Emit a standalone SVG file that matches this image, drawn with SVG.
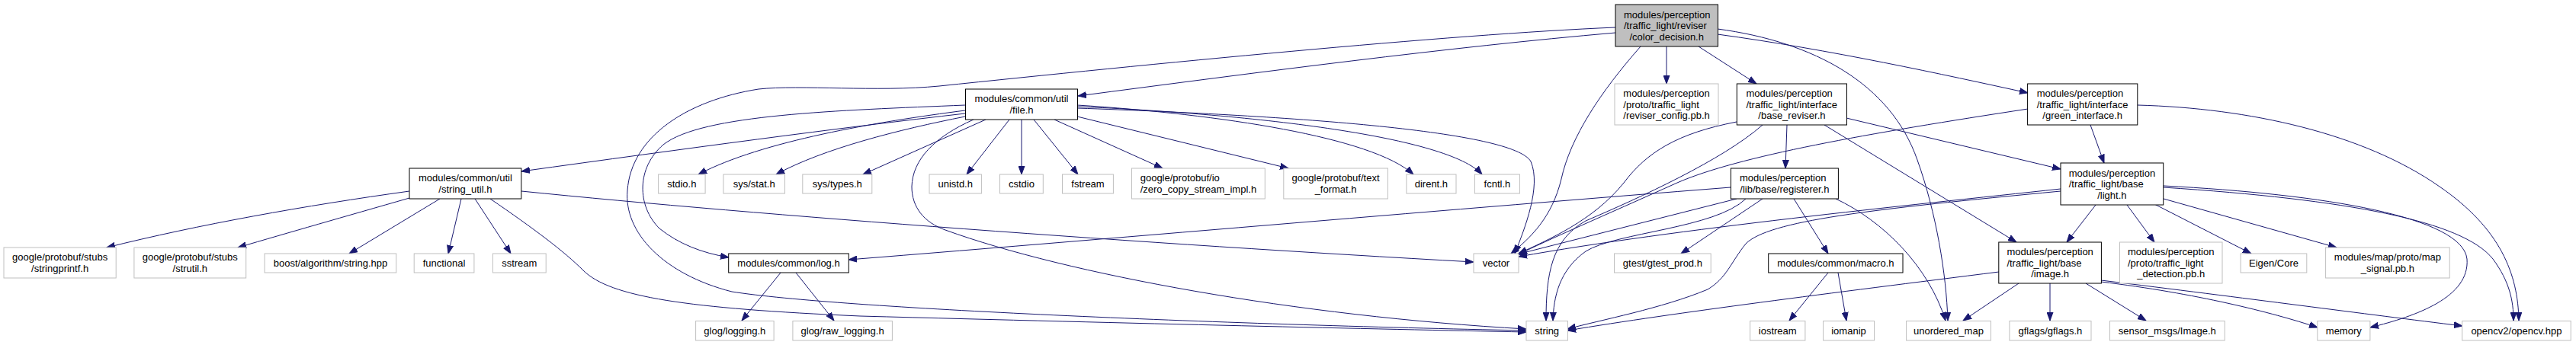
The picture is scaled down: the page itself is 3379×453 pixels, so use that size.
<svg xmlns="http://www.w3.org/2000/svg" width="3379" height="453" viewBox="0 0 3379 453">
<style>
text{font-family:"Liberation Sans",Arial,sans-serif;font-size:13px;fill:#000}
.c{text-anchor:middle}
.l{text-anchor:start}
.n rect{fill:#fff;stroke:#000;stroke-width:1}
.x rect{fill:#fff;stroke:#bfbfbf;stroke-width:1}
.r rect{fill:#bfbfbf;stroke:#000;stroke-width:1}
#edges path{fill:none;stroke:#191970;stroke-width:1;marker-end:url(#ah)}
</style>
<defs>
<marker id="ah" markerUnits="userSpaceOnUse" markerWidth="12" markerHeight="9" refX="11" refY="4.5" orient="auto" viewBox="0 0 12 9"><path d="M0,0.5 L11,4.5 L0,8.5 z" fill="#191970" stroke="#191970"/></marker>
</defs>
<rect width="3379" height="453" fill="#fff"/>
<g id="edges">
<path d="M2119,43 C1900,62 1650,95 1414,126"/>
<path d="M2119,36 C1900,45 1500,85 1232,113 C1150,121 1050,111 995,117 C900,132 828,180 823,250 C818,305 870,360 960,383 C1100,405 1600,426 2002,434"/>
<path d="M2152,61 C2100,120 2060,180 2048,235 C2036,285 2008,312 1982,333"/>
<path d="M2186,61 L2186,110"/>
<path d="M2228,61 L2304,110"/>
<path d="M2253,45 C2400,65 2550,98 2660,122"/>
<path d="M2253,38 C2380,55 2480,110 2515,210 C2540,280 2553,360 2555,421"/>
<path d="M1266,138 C1100,145 920,150 870,190 C835,220 835,270 865,300 C890,320 920,332 956,338"/>
<path d="M1266,145 C1150,160 1000,185 916,229"/>
<path d="M1266,149 C1100,168 900,195 684,225"/>
<path d="M1266,153 C1180,170 1080,195 1018,229"/>
<path d="M1293,157 L1132,229"/>
<path d="M1324,157 L1268,229"/>
<path d="M1340,157 L1340,229"/>
<path d="M1356,157 L1414,229"/>
<path d="M1383,157 L1525,221"/>
<path d="M1413,153 L1690,221"/>
<path d="M1413,138 C1600,150 1800,180 1854,229"/>
<path d="M1413,140 C1650,150 1900,180 1944,229"/>
<path d="M1413,142 C1700,152 1985,172 2008,212 C2022,245 2000,300 1987,333"/>
<path d="M1277,157 C1225,180 1197,210 1196,245 C1196,272 1212,292 1240,302 C1400,360 1700,415 2002,432"/>
<path d="M537,251 C400,270 260,295 140,325"/>
<path d="M537,260 C450,285 380,305 312,325"/>
<path d="M577,261 L458,333"/>
<path d="M605,261 L588,333"/>
<path d="M623,261 L670,333"/>
<path d="M643,261 C700,300 740,330 765,355 C800,390 900,405 1128,415 C1500,425 1800,432 2002,436"/>
<path d="M684,251 C1000,283 1500,320 1933,344"/>
<path d="M1024,358 L973,421"/>
<path d="M1044,358 L1094,421"/>
<path d="M2270,246 C1900,275 1500,310 1113,341"/>
<path d="M2353,261 L2398,333"/>
<path d="M2408,261 C2470,290 2530,350 2552,421"/>
<path d="M2312,261 L2205,333"/>
<path d="M2278,261 L1990,334"/>
<path d="M2290,261 C2250,300 2120,305 2080,330 C2045,355 2038,390 2037,421"/>
<path d="M2344,164 L2342,221"/>
<path d="M2393,164 L2645,318"/>
<path d="M2422,155 L2703,222"/>
<path d="M2278,160 C2200,175 2160,200 2130,240 C2090,290 2030,315 1992,333"/>
<path d="M2312,164 C2260,210 2150,260 2080,290 C2035,315 2028,360 2028,421"/>
<path d="M2742,164 L2760,214"/>
<path d="M2804,138 C2950,142 3100,175 3200,245 C3280,300 3303,360 3304,421"/>
<path d="M2660,143 C2450,175 2280,205 2200,240 C2100,285 2030,315 1992,334"/>
<path d="M2749,269 L2711,318"/>
<path d="M2790,269 L2826,318"/>
<path d="M2826,268 L2953,333"/>
<path d="M2838,261 L3065,325"/>
<path d="M2838,244 C3050,255 3230,285 3236,340 C3240,390 3170,415 3109,430"/>
<path d="M2838,246 C3080,262 3230,290 3270,340 C3292,370 3297,395 3297,421"/>
<path d="M2703,248 C2500,270 2200,300 1992,337"/>
<path d="M2703,251 C2450,275 2320,290 2290,320 C2270,345 2265,365 2240,380 C2180,405 2100,420 2056,432"/>
<path d="M2622,357 C2400,385 2200,410 2056,434"/>
<path d="M2648,372 L2575,421"/>
<path d="M2689,372 L2689,421"/>
<path d="M2736,372 L2815,421"/>
<path d="M2756,370 C2880,385 2980,410 3040,430"/>
<path d="M2756,368 C2950,392 3100,412 3230,428"/>
<path d="M2398,358 L2347,421"/>
<path d="M2411,358 L2422,421"/>
</g>
<g id="root" class="r"><rect x="2119" y="6" width="134.5" height="55"/><text class="l" x="2130" y="23.5">modules/perception</text><text class="l" x="2130" y="38">/traffic_light/reviser</text><text class="c" x="2186.2" y="52.5">/color_decision.h</text></g>
<g id="file_h" class="n"><rect x="1266.5" y="117" width="147" height="40"/><text class="l" x="1278.6" y="134.2">modules/common/util</text><text class="c" x="1340" y="148.7">/file.h</text></g>
<g id="reviser_config" class="x"><rect x="2118" y="110" width="136" height="54"/><text class="l" x="2129.3" y="127">modules/perception</text><text class="l" x="2129.3" y="141.5">/proto/traffic_light</text><text class="c" x="2186" y="156">/reviser_config.pb.h</text></g>
<g id="base_reviser" class="n"><rect x="2278.3" y="110" width="144.2" height="54"/><text class="l" x="2290.4" y="127">modules/perception</text><text class="l" x="2290.4" y="141.5">/traffic_light/interface</text><text class="c" x="2350.4" y="156">/base_reviser.h</text></g>
<g id="green_interface" class="n"><rect x="2659.6" y="110" width="144.2" height="54"/><text class="l" x="2671.7" y="127">modules/perception</text><text class="l" x="2671.7" y="141.5">/traffic_light/interface</text><text class="c" x="2731.7" y="156">/green_interface.h</text></g>
<g id="string_util" class="n"><rect x="537" y="221" width="146.8" height="40"/><text class="l" x="549" y="238.2">modules/common/util</text><text class="c" x="610.4" y="252.7">/string_util.h</text></g>
<g id="stdio" class="x"><rect x="863.6" y="229" width="61.5" height="25"/><text class="c" x="894.3" y="246">stdio.h</text></g>
<g id="sys_stat" class="x"><rect x="948.9" y="229" width="80.6" height="25"/><text class="c" x="989.2" y="246">sys/stat.h</text></g>
<g id="sys_types" class="x"><rect x="1052.8" y="229" width="91" height="25"/><text class="c" x="1098.3" y="246">sys/types.h</text></g>
<g id="unistd" class="x"><rect x="1219" y="229" width="68.4" height="25"/><text class="c" x="1253.2" y="246">unistd.h</text></g>
<g id="cstdio" class="x"><rect x="1311.5" y="229" width="56.8" height="25"/><text class="c" x="1339.9" y="246">cstdio</text></g>
<g id="fstream" class="x"><rect x="1393.5" y="229" width="66.9" height="25"/><text class="c" x="1427" y="246">fstream</text></g>
<g id="zero_copy" class="x"><rect x="1484.5" y="221" width="174.8" height="40"/><text class="l" x="1495.7" y="238.2">google/protobuf/io</text><text class="c" x="1571.9" y="252.7">/zero_copy_stream_impl.h</text></g>
<g id="text_format" class="x"><rect x="1683.8" y="221" width="136.6" height="40"/><text class="l" x="1694.6" y="238.2">google/protobuf/text</text><text class="c" x="1752.1" y="252.7">_format.h</text></g>
<g id="dirent" class="x"><rect x="1844.9" y="229" width="65.1" height="25"/><text class="c" x="1877.4" y="246">dirent.h</text></g>
<g id="fcntl" class="x"><rect x="1934.4" y="229" width="59" height="25"/><text class="c" x="1963.9" y="246">fcntl.h</text></g>
<g id="registerer" class="n"><rect x="2270.4" y="221" width="141" height="40"/><text class="l" x="2282" y="238.2">modules/perception</text><text class="c" x="2340.9" y="252.7">/lib/base/registerer.h</text></g>
<g id="light" class="n"><rect x="2703" y="214" width="134.7" height="55"/><text class="l" x="2713.7" y="231.5">modules/perception</text><text class="l" x="2713.7" y="246">/traffic_light/base</text><text class="c" x="2770.4" y="260.5">/light.h</text></g>
<g id="stringprintf" class="x"><rect x="5" y="325" width="147.2" height="40"/><text class="l" x="16.1" y="342.2">google/protobuf/stubs</text><text class="c" x="78.6" y="356.7">/stringprintf.h</text></g>
<g id="strutil" class="x"><rect x="175.9" y="325" width="146.8" height="40"/><text class="l" x="186.8" y="342.2">google/protobuf/stubs</text><text class="c" x="249.3" y="356.7">/strutil.h</text></g>
<g id="boost" class="x"><rect x="347.1" y="333" width="172.7" height="25"/><text class="c" x="433.5" y="350">boost/algorithm/string.hpp</text></g>
<g id="functional" class="x"><rect x="543.2" y="333" width="78.7" height="25"/><text class="c" x="582.5" y="350">functional</text></g>
<g id="sstream" class="x"><rect x="646.4" y="333" width="69.8" height="25"/><text class="c" x="681.3" y="350">sstream</text></g>
<g id="log_h" class="n"><rect x="955.7" y="333" width="157.6" height="25"/><text class="c" x="1034.5" y="350">modules/common/log.h</text></g>
<g id="vector" class="x"><rect x="1933" y="333" width="59" height="25"/><text class="c" x="1962.5" y="350">vector</text></g>
<g id="gtest" class="x"><rect x="2117.5" y="333" width="126.7" height="25"/><text class="c" x="2180.9" y="350">gtest/gtest_prod.h</text></g>
<g id="macro_h" class="n"><rect x="2319.7" y="333" width="176.3" height="25"/><text class="c" x="2407.9" y="350">modules/common/macro.h</text></g>
<g id="image_h" class="n"><rect x="2621.8" y="318" width="134.6" height="54"/><text class="l" x="2632.4" y="335">modules/perception</text><text class="l" x="2632.4" y="349.5">/traffic_light/base</text><text class="c" x="2689.1" y="364">/image.h</text></g>
<g id="detection" class="x"><rect x="2780.5" y="318" width="134.5" height="54"/><text class="l" x="2791" y="335">modules/perception</text><text class="l" x="2791" y="349.5">/proto/traffic_light</text><text class="c" x="2847.7" y="364">_detection.pb.h</text></g>
<g id="eigen" class="x"><rect x="2939.1" y="333" width="86.7" height="25"/><text class="c" x="2982.5" y="350">Eigen/Core</text></g>
<g id="map_signal" class="x"><rect x="3050.6" y="325" width="162.6" height="40"/><text class="l" x="3061.8" y="342.2">modules/map/proto/map</text><text class="c" x="3131.9" y="356.7">_signal.pb.h</text></g>
<g id="glog_logging" class="x"><rect x="912.6" y="421.5" width="102.5" height="25.5"/><text class="c" x="963.8" y="438.7">glog/logging.h</text></g>
<g id="glog_raw" class="x"><rect x="1039.9" y="421.5" width="130.5" height="25.5"/><text class="c" x="1105.1" y="438.7">glog/raw_logging.h</text></g>
<g id="string" class="x"><rect x="2002" y="421.5" width="54.4" height="25.5"/><text class="c" x="2029.2" y="438.7">string</text></g>
<g id="iostream" class="x"><rect x="2295.6" y="421.5" width="72.3" height="25.5"/><text class="c" x="2331.7" y="438.7">iostream</text></g>
<g id="iomanip" class="x"><rect x="2391.6" y="421.5" width="66.9" height="25.5"/><text class="c" x="2425" y="438.7">iomanip</text></g>
<g id="unordered_map" class="x"><rect x="2500.6" y="421.5" width="110.8" height="25.5"/><text class="c" x="2556" y="438.7">unordered_map</text></g>
<g id="gflags" class="x"><rect x="2635.9" y="421.5" width="107.1" height="25.5"/><text class="c" x="2689.4" y="438.7">gflags/gflags.h</text></g>
<g id="sensor_msgs" class="x"><rect x="2767.5" y="421.5" width="150.7" height="25.5"/><text class="c" x="2842.8" y="438.7">sensor_msgs/Image.h</text></g>
<g id="memory" class="x"><rect x="3039.8" y="421.5" width="69.1" height="25.5"/><text class="c" x="3074.3" y="438.7">memory</text></g>
<g id="opencv" class="x"><rect x="3229.7" y="421.5" width="142.5" height="25.5"/><text class="c" x="3300.9" y="438.7">opencv2/opencv.hpp</text></g>
</svg>
